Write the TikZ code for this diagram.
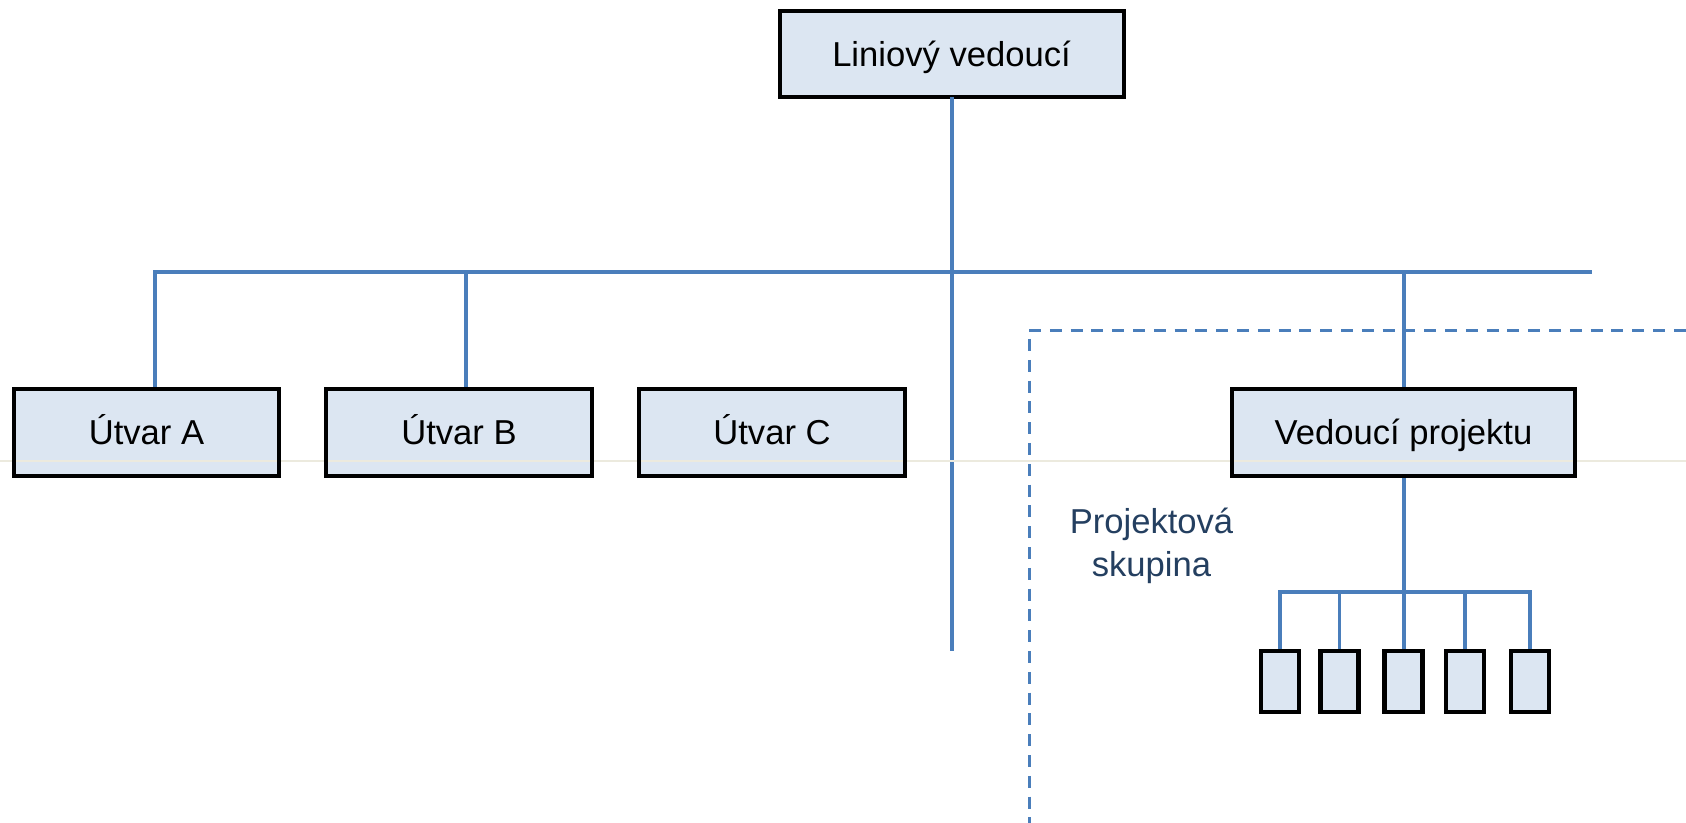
\documentclass[tikz,border=0pt]{standalone}
\usepackage{fontspec}
\setmainfont{Liberation Sans}
\definecolor{conn}{RGB}{74,126,187}
\definecolor{boxfill}{RGB}{220,230,242}
\definecolor{labelblue}{RGB}{36,63,96}
\definecolor{guide}{RGB}{236,234,222}
\begin{document}
\begin{tikzpicture}[x=0.5pt,y=-0.5pt,
  unit/.style={draw=black, line width=2pt, fill=boxfill, inner sep=0pt,
    outer sep=0pt, font=\fontsize{17.3}{20}\selectfont, text height=12.4pt,
    text depth=0pt, minimum height=43pt},
  member/.style={draw=black, line width=2.2pt, fill=boxfill, inner sep=0pt,
    minimum width=19pt, minimum height=30.5pt},
  link/.style={draw=conn, line width=1.6pt},
  teamline/.style={draw=conn, line width=1.5pt, dash pattern=on 6pt off 4.4pt},
  guideline/.style={draw=guide, line width=0.6pt},
]
\useasboundingbox (0,0) rectangle (1686,823);

% project team boundary
\coordinate (teamCorner) at (1029,331);
\coordinate (teamTop) at (1686,331);
\coordinate (teamBottom) at (1029,823);
\draw[teamline] (teamCorner) -- (teamTop);
\draw[teamline, dash phase=6.4pt] (teamCorner) -- (teamBottom);

% boxes
\node[unit, minimum width=172pt] (head) at (951.5,54) {Liniový vedoucí};
\node[unit, minimum width=132.5pt] (ua) at (146.5,432.5) {Útvar A};
\node[unit, minimum width=133pt] (ub) at (459,432.5) {Útvar B};
\node[unit, minimum width=133pt] (uc) at (772,432.5) {Útvar C};
\node[unit, minimum width=171.5pt] (pm) at (1403.5,432.5) {Vedoucí projektu};

\node[member] (m1) at (1280,681.5) {};
\node[member] (m2) at (1339.5,681.5) {};
\node[member] (m3) at (1403.5,681.5) {};
\node[member] (m4) at (1465,681.5) {};
\node[member] (m5) at (1530,681.5) {};

\node[font=\fontsize{17.3}{21.5}\selectfont, text=labelblue, align=center,
  inner sep=0pt, anchor=base] (team) at (1151.5,576) {Projektová\\skupina};

% line organisation
\coordinate (busL) at (155,272);
\coordinate (busR) at (1592,272);
\coordinate (spineEnd) at (952,651);
\coordinate (tB) at (466,272);
\coordinate (tP) at (1404,272);

\draw[link] (ua.north -| busL) -- (busL) -- (busR);
\draw[link] (head.south -| spineEnd) -- (spineEnd);
\draw[link] (tB) -- (tB |- ub.north);
\draw[link] (tP) -- (tP |- pm.north);

% project team
\coordinate (tbar) at (1404,592);
\draw[link] (pm.south -| tP) -- (m3.north -| tP);
\draw[link] (m1.north) -- (m1.north |- tbar) -- (m5.north |- tbar) -- (m5.north);
\draw[link] (m2.north) -- (m2.north |- tbar);
\draw[link] (m4.north) -- (m4.north |- tbar);

% faint guide line, kept beneath the box borders
\draw[guideline] (0,461) -- (1686,461);
\foreach \b in {ua,ub,uc,pm}
  \draw[line width=2pt] (\b.south west) rectangle (\b.north east);
\end{tikzpicture}
\end{document}
